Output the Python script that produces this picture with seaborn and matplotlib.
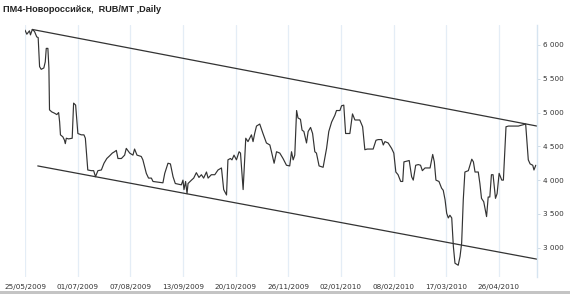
import matplotlib
matplotlib.use("Agg")
import matplotlib.pyplot as plt
import matplotlib.ticker as mticker
from matplotlib.patches import Rectangle
import seaborn as sns
import pandas as pd

# ---- data (trading-day position, price RUB/MT) ----
pos = [0.0, 0.9, 2.2, 2.7, 3.6, 4.7, 5.8, 6.5, 7.2, 8.0, 9.3, 10.0, 10.5, 11.3, 11.8,
       12.1, 13.2, 14.6, 15.7, 16.6, 17.1, 17.5, 18.7, 19.5, 19.9, 20.4, 21.5, 23.3, 24.0,
       25.0, 26.1, 27.8, 29.1, 29.8, 31.0, 32.7, 33.9, 34.8, 36.0, 37.7, 39.0, 40.4, 41.8,
       43.1, 44.2, 45.1, 45.9, 47.6, 49.2, 50.0, 51.7, 53.3, 54.1, 55.3, 57.4, 58.2, 59.9,
       61.0, 62.4, 63.2, 68.1, 69.0, 70.6, 71.8, 73.1, 74.2, 77.2, 78.0, 78.5, 79.3, 80.0,
       80.5, 82.2, 83.3, 84.6, 85.9, 87.1, 88.2, 89.6, 90.4, 92.0, 93.7, 95.3, 97.0, 98.1,
       99.5, 100.2, 101.4, 102.2, 103.2, 104.4, 105.7, 106.4, 107.7, 109.0, 110.1, 111.8,
       112.6, 113.4, 114.3, 115.9, 117.5, 119.2, 120.9, 121.7, 123.0, 124.2, 125.8, 127.4,
       129.1, 130.7, 131.6, 132.4, 133.2, 134.1, 134.8, 136.0, 136.8, 137.7, 139.0, 139.8,
       141.0, 142.0, 143.1, 143.9, 145.2, 147.2, 148.9, 150.0, 151.4, 153.0, 153.8, 155.5,
       156.3, 157.4, 158.3, 160.4, 161.7, 162.9, 165.3, 166.7, 167.8, 169.0, 171.9, 173.3,
       174.4, 176.1, 176.9, 177.7, 179.3, 181.0, 182.1, 183.1, 184.2, 185.5, 186.5, 187.1,
       188.4, 189.7, 190.9, 191.7, 192.9, 194.2, 195.3, 196.2, 197.5, 200.0, 201.3, 202.1,
       202.9, 204.4, 205.7, 206.5, 207.4, 208.2, 209.0, 209.8, 210.7, 211.5, 212.3, 213.9,
       214.8, 215.6, 216.4, 217.2, 218.9, 220.6, 221.4, 222.2, 223.8, 224.6, 225.4, 226.5,
       227.9, 228.7, 229.5, 230.3, 231.1, 232.3, 233.1, 234.1, 235.4, 236.2, 237.5, 238.7,
       243.6, 246.1, 247.2, 248.5, 249.4, 250.7, 251.3, 252.2]
price = [6220, 6160, 6210, 6150, 6230, 6200, 6120, 6110, 5680, 5640, 5660, 5750, 5950, 5950, 5660,
         5040, 5010, 4990, 4970, 5000, 4860, 4670, 4640, 4590, 4540, 4620, 4610, 4620, 5140,
         5110, 4690, 4670, 4670, 4620, 4150, 4140, 4140, 4050, 4140, 4150, 4250, 4320, 4360,
         4400, 4420, 4440, 4320, 4320, 4370, 4470, 4400, 4370, 4460, 4370, 4350, 4300, 4100,
         4030, 4030, 3980, 3960, 4100, 4250, 4240, 4050, 3950, 3930, 4000, 3860, 3980, 3800,
         3950, 4000, 4030, 4110, 4040, 4080, 4030, 4120, 4030, 4080, 4080, 4150, 4180, 3860,
         3780, 4300, 4320, 4300, 4370, 4300, 4420, 4400, 3860, 4620, 4570, 4670,
         4570, 4690, 4800, 4830, 4690, 4550, 4520, 4420, 4250, 4420, 4400, 4320,
         4220, 4210, 4420, 4300, 4370, 5030, 4920, 4900, 4740, 4720, 4550, 4720,
         4780, 4690, 4420, 4400, 4210, 4190, 4470, 4720, 4860, 4960, 5030, 5030,
         5100, 5110, 4690, 4690, 4980, 4890, 4890, 4790, 4450, 4460, 4460, 4590,
         4600, 4600, 4520, 4570, 4550, 4470, 4400, 4120, 4080, 3980, 3980, 4270,
         4280, 4290, 4050, 4000, 4220, 4230, 4220, 4140, 4180, 4180, 4380, 4270,
         4000, 3980, 3880, 3850, 3710, 3510, 3440, 3480, 3440, 3020, 2770, 2740,
         2870, 3070, 3710, 4120, 4140, 4310, 4270, 4120, 4120, 3950, 3730, 3680,
         3460, 3750, 3750, 4080, 4080, 3730, 3800, 4100, 4000, 4000, 4790, 4800,
         4800, 4820, 4830, 4300, 4240, 4220, 4150, 4220]

# channel trend lines (start / end)
upper_pos = [3.6, 252.8]
upper_val = [6230, 4800]
lower_pos = [6.3, 252.8]
lower_val = [4210, 2830]

tick_pos = [0, 26, 52, 78, 104, 130, 156, 182, 208, 234]
tick_labels = ["25/05/2009", "01/07/2009", "07/08/2009", "13/09/2009", "20/10/2009",
               "26/11/2009", "02/01/2010", "08/02/2010", "17/03/2010", "26/04/2010"]
y_ticks = [3000, 3500, 4000, 4500, 5000, 5500, 6000]

title = "ПМ4-Новороссийск,  RUB/MT ,Daily"

# ---- plot ----
sns.set_style("white")
plt.rcParams['font.family'] = ['DejaVu Sans']

fig = plt.figure(figsize=(5.7, 2.94), dpi=100)
ax = fig.add_axes([25 / 570, 17 / 294, 512 / 570, 252 / 294])

df = pd.DataFrame({"pos": pos, "price": price})
sns.lineplot(data=df, x="pos", y="price", ax=ax, color="#333333", linewidth=0.85,
             estimator=None, sort=False)
sns.lineplot(x=upper_pos, y=upper_val, ax=ax, color="#333333", linewidth=0.9, estimator=None)
sns.lineplot(x=lower_pos, y=lower_val, ax=ax, color="#333333", linewidth=0.9, estimator=None)

ax.set_xlim(0, 252.8)
ax.set_ylim(2566, 6296)

ax.set_xticks(tick_pos)
ax.set_xticklabels(tick_labels)
ax.set_yticks(y_ticks)
ax.yaxis.set_major_formatter(mticker.FuncFormatter(lambda v, p: f"{v:,.0f}".replace(",", " ")))
ax.yaxis.tick_right()
ax.set_xlabel("")
ax.set_ylabel("")

ax.grid(axis="x", color="#e4edf6", linewidth=0.9)
ax.grid(axis="y", visible=False)
ax.set_axisbelow(True)

for s in ["left", "top", "bottom"]:
    ax.spines[s].set_visible(False)
ax.spines["right"].set_color("#d6e4f0")
ax.spines["right"].set_linewidth(1.0)

ax.tick_params(axis="x", length=0, pad=5, labelsize=5.2, labelcolor="#333333")
ax.tick_params(axis="y", length=2, width=0.6, color="#c8d6e2", pad=2.5,
               labelsize=5.2, labelcolor="#333333")

fig.text(3 / 570, 1 - 9.5 / 294, title, ha="left", va="center", fontsize=6.6,
         fontweight="bold", color="#222222", family=["Liberation Sans", "DejaVu Sans"])

# bottom frame line
fig.patches.append(Rectangle((0, 0), 1, 3 / 294, transform=fig.transFigure,
                             facecolor="#c4c4c4", edgecolor="none"))

fig.savefig("out.png", dpi=100)
